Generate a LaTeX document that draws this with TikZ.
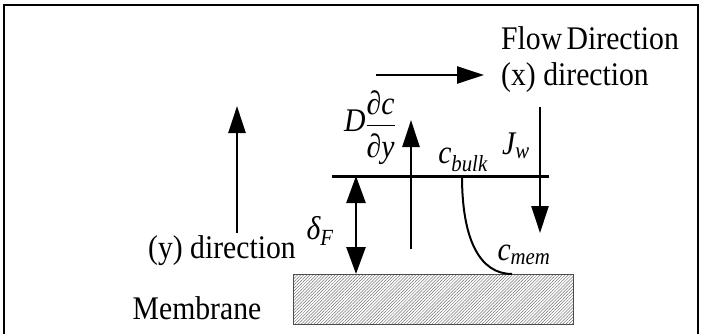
\documentclass[tikz,border=0pt]{standalone}
\usepackage{amsmath}
\usepackage{fontspec}
\setmainfont[FakeStretch=0.9]{Liberation Serif}
\usetikzlibrary{arrows.meta, patterns.meta}

\begin{document}
\begin{tikzpicture}[
    x=1pt, y=-1pt,
    every node/.style={font=\fontsize{33}{38}\selectfont, inner sep=0pt},
    flow/.style={line width=2.6pt, -{Triangle[length=27pt, width=17pt]}},
    both/.style={line width=2.6pt, {Triangle[length=27pt, width=19pt]}-{Triangle[length=27pt, width=19pt]}},
    layer/.style={line width=3pt},
    profile/.style={line width=2pt},
    wall/.style={draw=black!70, line width=0.6pt, pattern={Lines[angle=45, distance=2.2pt, line width=0.5pt]}, pattern color=black!55}
]
\useasboundingbox (0,0) rectangle (704,333);
% frame
\draw[line width=2.5pt] (4,345) -- (4,5) -- (698,5) -- (698,345);

% membrane
\node[wall, minimum width=280pt, minimum height=50pt, anchor=north west] (mem) at (293,274) {};
\node (memtxt) at (197,308) {Membrane};

% boundary layer edge
\coordinate (blL) at (332,176);
\coordinate (blR) at (549,176);
\draw[layer] (blL) -- (blR);

% arrows
\coordinate (yA) at (237,233);
\coordinate (yB) at (237,106);
\draw[flow] (yA) -- (yB);
\coordinate (dA) at (356,176);
\coordinate (dB) at (356,274);
\draw[both] (dA) -- (dB);
\coordinate (gA) at (411,249);
\coordinate (gB) at (411,120);
\draw[flow] (gA) -- (gB);
\coordinate (jA) at (540,107);
\coordinate (jB) at (540,233);
\draw[flow] (jA) -- (jB);
\coordinate (xA) at (376,75);
\coordinate (xB) at (484,75);
\draw[flow] (xA) -- (xB);

% concentration profile
\coordinate (cb0) at (462,176);
\coordinate (cm0) at (512,274);
\draw[profile] (cb0) .. controls (462,240) and (480,274) .. (cm0);

% labels
\node[anchor=west] (flowtxt) at (501,38) {Flow\hspace{-3pt} Direction};
\node[anchor=west] (xdir) at (501,78) {(x) direction};
\node[anchor=east] (ydir) at (296,251) {(y) direction};
\node (delta) at (320,231) {$\textit{δ}_{\textit{F}}$};
\node[anchor=east] (grad) at (396,128) {$\textit{D}\dfrac{\textit{∂c}\rule[-7pt]{0pt}{7pt}}{\rule{0pt}{29pt}\textit{∂y}}$};
\node (cbulk) at (463,160) {$\textit{c}_{\textit{bulk}}$};
\node (jw) at (516,146) {$\textit{J}_{\textit{w}}$};
\node (cmem) at (524,255) {$\textit{c}_{\textit{mem}}$};
\end{tikzpicture}
\end{document}
